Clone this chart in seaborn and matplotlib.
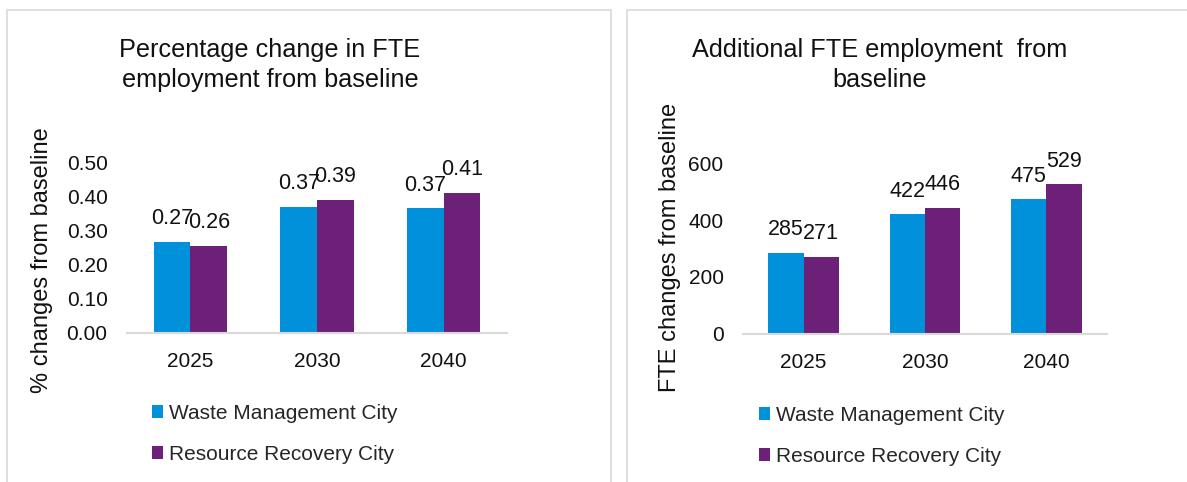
"""Two-panel FTE employment chart: percentage change and additional FTE vs baseline."""

import matplotlib

matplotlib.use("Agg")
import matplotlib.pyplot as plt
import pandas as pd
import seaborn as sns
from matplotlib.patches import Rectangle

YEARS = ["2025", "2030", "2040"]
SERIES = ["Waste Management City", "Resource Recovery City"]
PCT_WASTE = [0.268, 0.372, 0.367]
PCT_RESOURCE = [0.257, 0.392, 0.412]
FTE_WASTE = [285, 422, 475]
FTE_RESOURCE = [271, 446, 529]
PCT_TICKS = [0.0, 0.1, 0.2, 0.3, 0.4, 0.5]
FTE_TICKS = [0, 200, 400, 600]

PALETTE = {"Waste Management City": "#0091DA", "Resource Recovery City": "#6D2077"}
GREY = "#D9D9D9"

sns.set_theme(style="white")
plt.rcParams["font.family"] = ["Liberation Sans", "DejaVu Sans"]

W, H = 1187, 482


def long_frame(a, b):
    return pd.DataFrame({
        "year": YEARS * 2,
        "series": [SERIES[0]] * 3 + [SERIES[1]] * 3,
        "value": list(a) + list(b),
    })


def draw(ax, df, ticks, fmt, tickfmt, legend_xy):
    sns.barplot(data=df, x="year", y="value", hue="series", order=YEARS,
                hue_order=SERIES, palette=PALETTE, width=0.58, linewidth=0,
                saturation=1, ax=ax)
    for c in ax.containers:
        ax.bar_label(c, fmt=fmt, padding=9, fontsize=15.5, color="#111111")
    ax.set_ylim(ticks[0], ticks[-1])
    ax.set_yticks(ticks)
    ax.set_yticklabels([tickfmt(t) for t in ticks])
    ax.set_xlabel(""); ax.set_ylabel("")
    ax.tick_params(axis="both", length=0, pad=14, labelsize=15, labelcolor="#111111")
    for s in ["top", "right", "left"]:
        ax.spines[s].set_visible(False)
    ax.spines["bottom"].set_color(GREY)
    ax.spines["bottom"].set_linewidth(1.5)
    h, l = ax.get_legend_handles_labels()
    ax.legend(h, l, loc="center left", bbox_to_anchor=legend_xy,
              bbox_transform=ax.figure.transFigure, frameon=False, fontsize=15,
              handlelength=0.55, handleheight=0.55, handletextpad=0.25,
              labelspacing=1.05, borderpad=0, borderaxespad=0)


fig = plt.figure(figsize=(W / 100, H / 100), dpi=100)

# panel frames
fig.add_artist(Rectangle((7 / W, -0.05), (611 - 7) / W, 1 - 10 / H + 0.05,
                         transform=fig.transFigure, fill=False, edgecolor=GREY, lw=1.2))
fig.add_artist(Rectangle((627 / W, -0.05), (1195 - 627) / W, 1 - 10 / H + 0.05,
                         transform=fig.transFigure, fill=False, edgecolor=GREY, lw=1.2))

ax1 = fig.add_axes([127 / W, 1 - 333 / H, (507 - 127) / W, (333 - 163) / H])
draw(ax1, long_frame(PCT_WASTE, PCT_RESOURCE), PCT_TICKS, "%.2f",
     lambda t: f"{t:.2f}", (152 / W, 1 - 434 / H))

ax2 = fig.add_axes([743 / W, 1 - 333.5 / H, (1107 - 743) / W, (333.5 - 164) / H])
draw(ax2, long_frame(FTE_WASTE, FTE_RESOURCE), FTE_TICKS, "%.0f",
     lambda t: f"{t:.0f}", (759 / W, 1 - 436 / H))

fig.text(270 / W, 1 - 65 / H, "Percentage change in FTE\nemployment from baseline",
         ha="center", va="center", fontsize=18.2, linespacing=1.35, color="#111111")
fig.text(880 / W, 1 - 65 / H, "Additional FTE employment  from\nbaseline",
         ha="center", va="center", fontsize=18.2, linespacing=1.35, color="#111111")
fig.text(42 / W, 1 - 260 / H, "% changes from baseline", rotation=90,
         ha="center", va="center", fontsize=17, color="#111111")
fig.text(670 / W, 1 - 247 / H, "FTE changes from baseline", rotation=90,
         ha="center", va="center", fontsize=17, color="#111111")

fig.savefig("out.png", dpi=100)
